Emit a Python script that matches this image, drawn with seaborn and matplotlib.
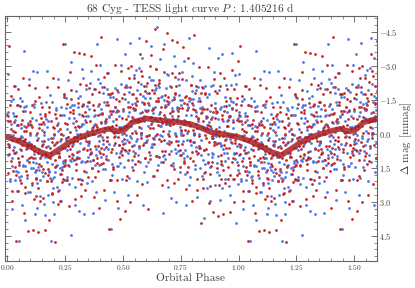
import matplotlib.pyplot as plt
import numpy as np
import pandas as pd
import seaborn as sns
from matplotlib.ticker import MultipleLocator

# phase in 1/1000 of a cycle, delta mag in 1/100 mmag
blue_phase = [
    2, 5, 9, 12, 15, 18, 21, 24, 30, 34, 37, 40, 43, 46, 49, 27,
    59, 62, 65, 68, 71, 74, 52, 55, 87, 90, 93, 96, 99, 77, 80, 84,
    115, 118, 121, 124, 102, 105, 109, 112, 143, 146, 149, 127, 130, 134, 137, 140,
    171, 174, 152, 155, 159, 162, 165, 168, 199, 177, 180, 184, 187, 190, 193, 196,
    202, 205, 209, 212, 215, 218, 221, 224, 230, 234, 237, 240, 243, 246, 249, 227,
    259, 262, 265, 268, 271, 274, 252, 255, 287, 290, 293, 296, 299, 277, 280, 284,
    315, 318, 321, 324, 302, 305, 309, 312, 343, 346, 349, 327, 330, 334, 337, 340,
    371, 374, 352, 355, 359, 362, 365, 368, 399, 377, 380, 384, 387, 390, 393, 396,
    402, 405, 409, 412, 415, 418, 421, 424, 430, 434, 437, 440, 443, 446, 449, 427,
    459, 462, 465, 468, 471, 474, 452, 455, 487, 490, 493, 496, 499, 477, 480, 484,
    515, 518, 521, 524, 502, 505, 509, 512, 543, 546, 549, 527, 530, 534, 537, 540,
    571, 574, 552, 555, 559, 562, 565, 568, 599, 577, 580, 584, 587, 590, 593, 596,
    602, 605, 609, 612, 615, 618, 621, 624, 630, 634, 637, 640, 643, 646, 649, 627,
    659, 662, 665, 668, 671, 674, 652, 655, 687, 690, 693, 696, 699, 677, 680, 684,
    715, 718, 721, 724, 702, 705, 709, 712, 743, 746, 749, 727, 730, 734, 737, 740,
    771, 774, 752, 755, 759, 762, 765, 768, 799, 777, 780, 784, 787, 790, 793, 796,
    802, 805, 809, 812, 815, 818, 821, 824, 830, 834, 837, 840, 843, 846, 849, 827,
    859, 862, 865, 868, 871, 874, 852, 855, 887, 890, 893, 896, 899, 877, 880, 884,
    915, 918, 921, 924, 902, 905, 909, 912, 943, 946, 949, 927, 930, 934, 937, 940,
    971, 974, 952, 955, 959, 962, 965, 968, 999, 977, 980, 984, 987, 990, 993, 996,
    1, 3, 7, 10, 14, 16, 20, 23, 41, 45, 48, 26, 28, 32, 35, 39,
    57, 60, 64, 66, 70, 73, 51, 53, 98, 76, 78, 82, 85, 89, 91, 95,
    114, 116, 120, 123, 101, 103, 107, 110, 128, 132, 135, 139, 141, 145, 148, 126,
    170, 173, 151, 153, 157, 160, 164, 166, 185, 189, 191, 195, 198, 176, 178, 182,
    201, 203, 207, 210, 214, 216, 220, 223, 241, 245, 248, 226, 228, 232, 235, 239,
    257, 260, 264, 266, 270, 273, 251, 253, 298, 276, 278, 282, 285, 289, 291, 295,
    314, 316, 320, 323, 301, 303, 307, 310, 328, 332, 335, 339, 341, 345, 348, 326,
    370, 373, 351, 353, 357, 360, 364, 366, 385, 389, 391, 395, 398, 376, 378, 382,
    401, 403, 407, 410, 414, 416, 420, 423, 441, 445, 448, 426, 428, 432, 435, 439,
    457, 460, 464, 466, 470, 473, 451, 453, 498, 476, 478, 482, 485, 489, 491, 495,
    514, 516, 520, 523, 501, 503, 507, 510, 528, 532, 535, 539, 541, 545, 548, 526,
    570, 573, 551, 553, 557, 560, 564, 566, 585, 589, 591, 595, 598, 576, 578, 582,
    601, 603, 607, 610, 614, 616, 620, 623, 641, 645, 648, 626, 628, 632, 635, 639,
    657, 660, 664, 666, 670, 673, 651, 653, 698, 676, 678, 682, 685, 689, 691, 695,
    714, 716, 720, 723, 701, 703, 707, 710, 728, 732, 735, 739, 741, 745, 748, 726,
    770, 773, 751, 753, 757, 760, 764, 766, 785, 789, 791, 795, 798, 776, 778, 782,
    801, 803, 807, 810, 814, 816, 820, 823, 841, 845, 848, 826, 828, 832, 835, 839,
    857, 860, 864, 866, 870, 873, 851, 853, 898, 876, 878, 882, 885, 889, 891, 895,
    914, 916, 920, 923, 901, 903, 907, 910, 928, 932, 935, 939, 941, 945, 948, 926,
    970, 973, 951, 953, 957, 960, 964, 966, 985, 989, 991, 995, 998, 976, 978, 982,
]
blue_mag = [
    -263, -77, 51, 198, -144, 109, 332, 6, 85, -210, 163, -37, 251, -128, 474, -79,
    12, 316, -145, 140, -33, -367, 191, 68, 194, 49, -242, 256, -45, 380, -123, 117,
    -131, 108, 354, -59, 62, 226, -275, 150, 203, -137, 31, 328, -274, 149, -42, 276,
    -275, 270, 53, 187, -41, 358, 104, -139, 302, -56, 165, -170, 473, 87, 201, 18,
    354, 169, 42, -106, 235, -10, -243, 97, 1, 298, -84, 119, -172, 206, -395, 150,
    73, -237, 221, -68, 114, 449, -112, 26, -125, 30, 313, -187, 111, -318, 194, -49,
    202, -36, -285, 120, 13, -157, 341, -88, -124, 219, 52, -246, 355, -60, 123, -197,
    351, -198, 34, -109, 122, -276, -25, 210, -223, 137, -81, 258, -394, 9, -122, 76,
    -305, -110, 13, 157, -181, 68, 294, -49, 32, -266, 115, -80, 203, -177, 421, -128,
    -54, 259, -202, 86, -95, -420, 133, -7, 131, -28, -304, 199, -102, 326, -185, 50,
    -213, 27, 271, -138, -24, 149, -352, 76, 75, -260, -103, 197, -401, 18, -174, 149,
    -422, 126, -105, 30, -193, 207, -51, -288, 144, -219, -2, -336, 315, -80, 43, -157,
    211, 28, -104, -249, 92, -156, -385, -50, -113, 187, -191, 8, -284, 99, -472, 46,
    -35, -330, 123, -167, 11, 348, -214, -89, -202, -56, 235, -260, 33, -397, 111, -128,
    144, -99, -342, 66, -55, -210, 283, -147, -171, 168, 4, -299, 302, -116, 75, -240,
    313, -237, -11, -148, 84, -319, -62, 176, -255, 100, -113, 227, -421, -38, -154, 49,
    -312, -126, 5, 140, -193, 57, 281, -58, 64, -239, 92, -116, 185, -200, 373, -157,
    -71, 238, -164, 129, -52, -376, 175, -20, 103, 17, -271, 228, -134, 299, -212, 86,
    -195, 40, 293, -117, -1, 168, -334, 99, 122, -216, -55, 240, -353, 67, -121, 198,
    -354, 199, -32, 106, -125, 270, 23, -217, 221, -138, 84, -259, 392, 6, 125, -70,
    93, -96, 51, 209, -42, 12, 144, -151, -40, 169, 23, -91, 57, 204, -59, 82,
    186, -25, 13, 141, 32, -120, 123, -159, 7, 143, -102, 68, 117, -46, 259, 38,
    90, -119, 171, 7, 152, 50, -68, 125, 216, 21, 67, 162, -85, 100, -18, 128,
    -30, 124, 167, 45, 312, 7, 85, -64, 194, 84, -140, 135, 239, 22, 56, 169,
    4, 193, 46, -112, 139, 85, -47, 248, 128, -81, 65, 179, 31, -116, 147, 6,
    189, -22, 16, 144, 35, -117, 126, -156, -16, 120, -125, 45, 94, -69, 236, 15,
    42, -167, 123, -41, 104, 2, -116, 77, -130, 65, 19, -76, 171, -14, 104, -42,
    117, -37, -80, 42, -225, 80, 2, 151, 93, -17, -241, 34, 138, -79, -45, 68,
    -88, 101, -46, -204, 47, -7, -139, 156, 47, -162, -16, 98, -50, -197, 66, -75,
    -162, 49, 11, -117, -8, 144, -99, 183, 32, -104, 141, -29, -78, 85, -220, 1,
    4, -205, 85, -79, 66, -36, -154, 39, -185, 10, -36, -131, 116, -69, 49, -97,
    61, -93, -136, -14, -281, 24, -54, 95, -165, -55, 169, -106, -210, 7, -27, -140,
    8, -181, -34, 124, -127, -73, 59, -236, 6, -203, -57, 57, -91, -238, 25, -116,
    -206, 5, -33, -161, -52, 100, -143, 139, -13, -149, 96, -74, -123, 40, -265, -44,
    -80, 129, -161, 3, -142, -40, 78, -115, 86, -109, -63, 32, -215, -30, -148, -2,
    71, -83, -126, -4, -271, 34, -44, 105, -143, -33, 191, -84, -188, 29, -5, -118,
    38, -151, -4, 154, -97, -43, 89, -206, -94, 115, -31, -145, 3, 150, -113, 28,
    133, -78, -40, 88, -21, -173, 70, -212, 38, -98, 147, -23, -72, 91, -214, 7,
    -29, 180, -110, 54, -91, 11, 129, -64, 138, -57, -11, 84, -163, 22, -96, 50,
    -111, 43, 86, -36, 231, -74, 4, -145, 113, 3, -221, 54, 158, -59, -25, 88,
]
red_phase = [
    1, 4, 7, 11, 14, 17, 20, 23, 36, 39, 42, 45, 48, 26, 29, 32,
    70, 73, 51, 54, 57, 61, 64, 67, 79, 82, 86, 89, 92, 95, 98, 76,
    114, 117, 120, 123, 101, 104, 107, 111, 148, 126, 129, 132, 136, 139, 142, 145,
    157, 161, 164, 167, 170, 173, 151, 154, 192, 195, 198, 176, 179, 182, 186, 189,
    201, 204, 207, 211, 214, 217, 220, 223, 236, 239, 242, 245, 248, 226, 229, 232,
    270, 273, 251, 254, 257, 261, 264, 267, 279, 282, 286, 289, 292, 295, 298, 276,
    314, 317, 320, 323, 301, 304, 307, 311, 348, 326, 329, 332, 336, 339, 342, 345,
    357, 361, 364, 367, 370, 373, 351, 354, 392, 395, 398, 376, 379, 382, 386, 389,
    401, 404, 407, 411, 414, 417, 420, 423, 436, 439, 442, 445, 448, 426, 429, 432,
    470, 473, 451, 454, 457, 461, 464, 467, 479, 482, 486, 489, 492, 495, 498, 476,
    514, 517, 520, 523, 501, 504, 507, 511, 548, 526, 529, 532, 536, 539, 542, 545,
    557, 561, 564, 567, 570, 573, 551, 554, 592, 595, 598, 576, 579, 582, 586, 589,
    601, 604, 607, 611, 614, 617, 620, 623, 636, 639, 642, 645, 648, 626, 629, 632,
    670, 673, 651, 654, 657, 661, 664, 667, 679, 682, 686, 689, 692, 695, 698, 676,
    714, 717, 720, 723, 701, 704, 707, 711, 748, 726, 729, 732, 736, 739, 742, 745,
    757, 761, 764, 767, 770, 773, 751, 754, 792, 795, 798, 776, 779, 782, 786, 789,
    801, 804, 807, 811, 814, 817, 820, 823, 836, 839, 842, 845, 848, 826, 829, 832,
    870, 873, 851, 854, 857, 861, 864, 867, 879, 882, 886, 889, 892, 895, 898, 876,
    914, 917, 920, 923, 901, 904, 907, 911, 948, 926, 929, 932, 936, 939, 942, 945,
    957, 961, 964, 967, 970, 973, 951, 954, 992, 995, 998, 976, 979, 982, 986, 989,
    3, 6, 8, 12, 15, 19, 22, 0, 37, 40, 44, 47, 25, 28, 31, 33,
    72, 50, 53, 56, 58, 62, 65, 69, 81, 83, 87, 90, 94, 97, 75, 78,
    115, 119, 122, 100, 103, 106, 108, 112, 125, 128, 131, 133, 137, 140, 144, 147,
    158, 162, 165, 169, 172, 150, 153, 156, 194, 197, 175, 178, 181, 183, 187, 190,
    203, 206, 208, 212, 215, 219, 222, 200, 237, 240, 244, 247, 225, 228, 231, 233,
    272, 250, 253, 256, 258, 262, 265, 269, 281, 283, 287, 290, 294, 297, 275, 278,
    315, 319, 322, 300, 303, 306, 308, 312, 325, 328, 331, 333, 337, 340, 344, 347,
    358, 362, 365, 369, 372, 350, 353, 356, 394, 397, 375, 378, 381, 383, 387, 390,
    403, 406, 408, 412, 415, 419, 422, 400, 437, 440, 444, 447, 425, 428, 431, 433,
    472, 450, 453, 456, 458, 462, 465, 469, 481, 483, 487, 490, 494, 497, 475, 478,
    515, 519, 522, 500, 503, 506, 508, 512, 525, 528, 531, 533, 537, 540, 544, 547,
    558, 562, 565, 569, 572, 550, 553, 556, 594, 597, 575, 578, 581, 583, 587, 590,
    603, 606, 608, 612, 615, 619, 622, 600, 637, 640, 644, 647, 625, 628, 631, 633,
    672, 650, 653, 656, 658, 662, 665, 669, 681, 683, 687, 690, 694, 697, 675, 678,
    715, 719, 722, 700, 703, 706, 708, 712, 725, 728, 731, 733, 737, 740, 744, 747,
    758, 762, 765, 769, 772, 750, 753, 756, 794, 797, 775, 778, 781, 783, 787, 790,
    803, 806, 808, 812, 815, 819, 822, 800, 837, 840, 844, 847, 825, 828, 831, 833,
    872, 850, 853, 856, 858, 862, 865, 869, 881, 883, 887, 890, 894, 897, 875, 878,
    915, 919, 922, 900, 903, 906, 908, 912, 925, 928, 931, 933, 937, 940, 944, 947,
    958, 962, 965, 969, 972, 950, 953, 956, 994, 997, 975, 978, 981, 983, 987, 990,
]
red_mag = [
    46, 172, -389, -54, 120, -165, 298, -11, -77, 473, -126, 252, -39, 164, -210, 85,
    28, 351, 127, -123, 216, 72, -59, -244, -30, 165, 48, 431, -217, 123, -96, 262,
    289, 54, -200, 195, -38, 101, -127, 423, -116, 202, 29, 434, -160, 135, 298, -41,
    -7, 423, -76, 92, 209, -204, 50, 285, 38, 261, -247, 183, -116, 382, 109, -54,
    50, -85, 478, 141, -37, 253, -206, 102, 159, -394, 200, -175, 118, -81, 297, 3,
    66, -272, -49, 204, -130, 15, 138, 321, 107, -93, 36, -362, 289, -54, 160, -195,
    -218, 21, 277, -123, 106, -32, 199, -354, 190, -125, 68, -351, 247, -53, -216, 122,
    89, -344, 150, -15, -128, 281, 37, -203, 56, -182, 329, -104, 190, -305, -28, 131,
    7, 133, -426, -92, 89, -204, 250, -55, -128, 421, -177, 203, -86, 112, -269, 34,
    -40, 295, 68, -181, 157, 13, -116, -302, -99, 104, -20, 375, -278, 61, -157, 203,
    206, -32, -289, 114, -110, 25, -208, 341, -247, 73, -116, 302, -299, -4, 160, -175,
    -158, 271, -227, -63, 56, -352, -109, 134, -130, 105, -408, 21, -277, 223, -66, -212,
    -99, -224, 330, 5, -178, 111, -347, -43, 46, -462, 99, -284, 0, -195, 188, -111,
    -47, -373, -146, 102, -239, -94, 30, 225, 28, -171, -57, -443, 206, -132, 89, -274,
    -270, -45, 218, -181, 47, -93, 136, -412, 149, -174, 10, -405, 198, -101, -267, 73,
    46, -382, 119, -54, -160, 245, -18, -241, 27, -213, 296, -132, 169, -334, -50, 105,
    -18, 121, -437, -103, 76, -212, 249, -64, -90, 395, -208, 241, -57, 83, -296, 62,
    -39, 304, 70, -175, 168, 21, -107, -293, -126, 142, 19, 344, -240, 35, -188, 231,
    227, -13, -266, 132, -99, 44, -180, 365, -198, 121, -67, 353, -246, 52, 219, -124,
    -80, 345, -158, 11, 127, -283, -36, 202, -59, 184, -320, 105, -198, 301, 27, -133,
    -56, 57, 91, -126, -22, 253, 29, -81, 180, 31, 109, -196, 71, -51, -8, 146,
    -10, 136, 18, 203, -44, 51, 97, -98, -10, 183, 65, -37, 108, -56, 234, 25,
    77, -144, 161, -2, 47, 217, -28, 108, 277, -5, 238, 86, -23, 105, 143, -68,
    34, 175, -88, 59, 207, 93, -53, 156, 264, -31, 101, 155, -96, 62, 209, 20,
    1, 114, 148, -69, 35, 310, 86, -24, 212, 63, 141, -164, 103, -19, 24, 178,
    -7, 139, 21, 206, -41, 54, 100, -95, 89, -104, 14, 116, -29, 135, -155, 54,
    3, 224, -81, 82, 33, -137, 108, -28, 205, -77, 166, 14, -95, 33, 71, -140,
    -55, 86, -177, -30, 118, 4, -142, 67, 163, -132, 0, 54, -197, -39, 108, -81,
    61, -52, -86, 131, 27, -248, -24, 86, -173, -24, -102, 203, -64, 58, 15, -139,
    -64, 82, -36, 149, -98, -3, 43, -152, 49, -144, -26, 76, -69, 95, -195, 14,
    -35, 186, -119, 44, -5, -175, 70, -66, -246, 36, -207, -55, 54, -74, -112, 99,
    -3, -144, 119, -28, -176, -62, 84, -125, 107, -188, -56, -2, -253, -95, 52, -137,
    11, -102, -136, 81, -23, -298, -74, 36, -214, -65, -143, 162, -105, 17, -26, -180,
    -10, -156, -38, -223, 24, -71, -117, 78, -118, 75, -43, -145, 0, -164, 126, -83,
    -67, 154, -151, 12, -37, -207, 38, -98, -249, 33, -210, -58, 51, -77, -115, 96,
    7, -134, 129, -18, -166, -52, 94, -115, -213, 82, -50, -104, 147, -11, -158, 31,
    -111, 2, 36, -181, -77, 198, -26, -136, -178, -29, -107, 198, -69, 53, 10, -144,
    35, -111, 7, -178, 69, -26, -72, 123, -67, 126, 8, -94, 51, -113, 177, -32,
    10, -211, 94, -69, -20, 150, -95, 41, 199, -83, 160, 8, -101, 27, 65, -146,
    61, -80, 183, 36, -112, 2, 148, -61, -159, 136, 4, -50, 201, 43, -104, 85,
]

# binned light curve (mmag)
bin_phase = [0.00, 0.05, 0.10, 0.14, 0.185, 0.23, 0.27, 0.315, 0.36, 0.40, 0.44,
             0.48, 0.51, 0.54, 0.60, 0.67, 0.74, 0.80, 0.84, 0.88, 0.96, 1.00]
bin_mag = [0.15, 0.33, 0.57, 0.80, 0.95, 0.65, 0.37, 0.15, 0.00, -0.12, -0.22,
           -0.10, -0.20, -0.50, -0.67, -0.58, -0.51, -0.40, -0.25, -0.07, 0.07, 0.15]


def fold(phase, mag):
    # phases below 0.6 are shown a second time after 1.0
    phase = np.asarray(phase) / 1000
    mag = np.asarray(mag) / 100
    extra = phase < 0.6
    return pd.DataFrame({'phase': np.concatenate([phase, phase[extra] + 1]),
                         'mag': np.concatenate([mag, mag[extra]])})


blue = fold(blue_phase, blue_mag)
red = fold(red_phase, red_mag)
bp = np.asarray(bin_phase)
binned = pd.DataFrame({'phase': np.concatenate([bp, bp[1:] + 1]),
                       'mag': np.concatenate([bin_mag, bin_mag[1:]])})

sns.set_style('ticks')
plt.rcParams['font.family'] = 'serif'
plt.rcParams['font.serif'] = ['cmr10']
plt.rcParams['mathtext.fontset'] = 'cm'
plt.rcParams['axes.formatter.use_mathtext'] = True

fig, axes = plt.subplots(figsize=(4.15, 2.88), dpi=100)
fig.subplots_adjust(left=0.011, right=0.908, bottom=0.095, top=0.945)

sns.scatterplot(data=blue, x='phase', y='mag', color='#4a78e8', s=4,
                linewidth=0, ax=axes)
sns.scatterplot(data=red, x='phase', y='mag', color='#c42a2a', s=4,
                linewidth=0, ax=axes)
sns.lineplot(data=binned, x='phase', y='mag', sort=False, estimator=None,
             color='#a81f1f', lw=4, alpha=0.85, ax=axes)

axes.set_xlim(-0.012, 1.598)
axes.set_ylim(5.6, -5.2)  # magnitudes: brighter is up
axes.xaxis.set_major_locator(MultipleLocator(0.25))
axes.xaxis.set_minor_locator(MultipleLocator(0.05))
axes.yaxis.set_major_locator(MultipleLocator(1.5))
axes.yaxis.set_minor_locator(MultipleLocator(0.3))

axes.yaxis.tick_right()
axes.yaxis.set_label_position('right')
axes.tick_params(which='both', direction='in', top=True, bottom=True,
                 left=True, right=True, color='0.35', labelcolor='0.25')
axes.tick_params(which='major', length=4, width=0.6)
axes.tick_params(which='minor', length=2, width=0.5)
axes.tick_params(axis='x', labelsize=5.3, pad=1.5)
axes.tick_params(axis='y', labelsize=6, pad=1.5)
for spine in axes.spines.values():
    spine.set_color('0.4')
    spine.set_linewidth(0.8)

axes.set_title(r'68 Cyg - TESS light curve $P$ : 1.405216 d', fontsize=8.2,
               pad=3, color='0.25')
axes.set_xlabel('Orbital Phase', fontsize=8.2, labelpad=1, color='0.25')
axes.set_ylabel(r'$\Delta$ mag [mmag]', fontsize=8, labelpad=0.5, color='0.25')

fig.savefig('out.png', dpi=100)
